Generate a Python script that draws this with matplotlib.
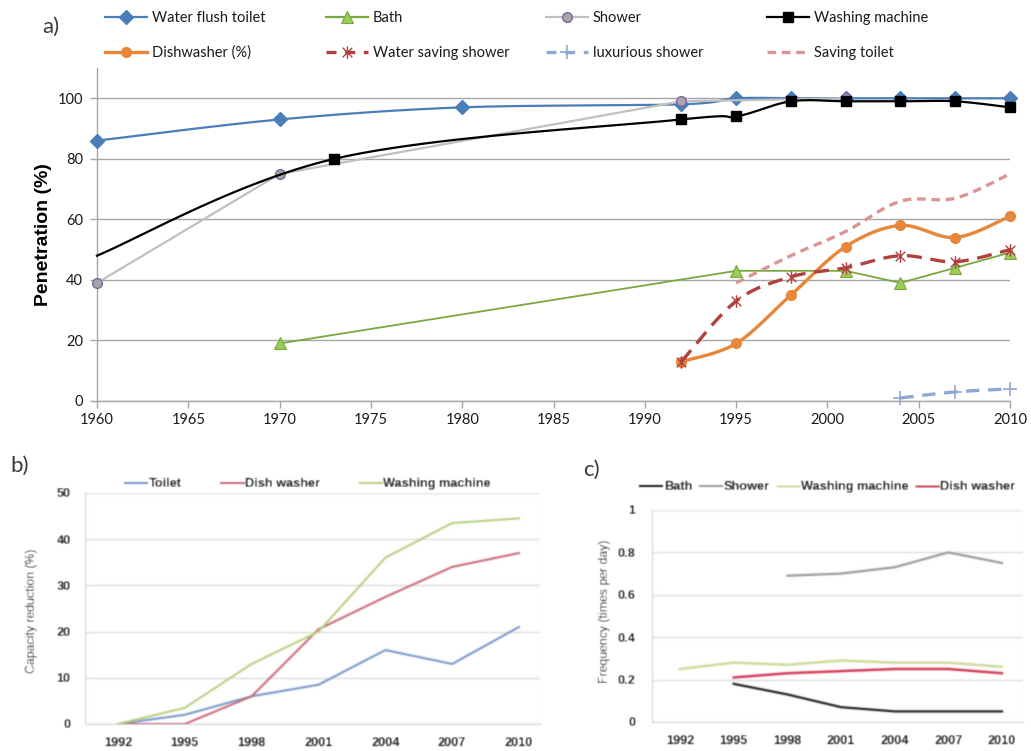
import numpy as np
import matplotlib
matplotlib.use("Agg")
import matplotlib.pyplot as plt
from matplotlib.path import Path
from matplotlib.lines import Line2D

# ---------------- data: (a) penetration of appliances (%) ----------------
toilet_years = [1960, 1970, 1980, 1992, 1995, 1998, 2001, 2004, 2007, 2010]
flush_toilet = [86, 93, 97, 98, 100, 100, 100, 100, 100, 100]

bath_years = [1970, 1995, 2001, 2004, 2007, 2010]
bath = [19, 43, 43, 39, 44, 49]

shower_years = [1960, 1970, 1992, 2001]
shower = [39, 75, 99, 100]

wm_years = [1960, 1973, 1992, 1995, 1998, 2001, 2004, 2007, 2010]
washing_machine = [48, 80, 93, 94, 99, 99, 99, 99, 97]

dw_years = [1992, 1995, 1998, 2001, 2004, 2007, 2010]
dishwasher = [13, 19, 35, 51, 58, 54, 61]

wss_years = [1992, 1995, 1998, 2001, 2004, 2007, 2010]
water_saving_shower = [13, 33, 41, 44, 48, 46, 50]

lux_years = [2004, 2007, 2010]
luxurious_shower = [1, 3, 4]

st_years = [1995, 1998, 2001, 2004, 2007, 2010]
saving_toilet = [39, 48, 56, 66, 67, 75]

# ---------------- data: (b) capacity reduction (%) ----------------
survey_years = ["1992", "1995", "1998", "2001", "2004", "2007", "2010"]
cap_toilet = [0, 2, 6, 8.5, 16, 13, 21]
cap_dishwasher = [0, 0, 6, 20.5, 27.5, 34, 37]
cap_washing = [0, 3.5, 13, 20, 36, 43.5, 44.5]

# ---------------- data: (c) frequency (times per day) ----------------
freq_bath = [np.nan, 0.18, 0.13, 0.07, 0.05, 0.05, 0.05]
freq_shower = [np.nan, np.nan, 0.69, 0.70, 0.73, 0.80, 0.75]
freq_washing = [0.25, 0.28, 0.27, 0.29, 0.28, 0.28, 0.26]
freq_dishwasher = [np.nan, 0.21, 0.23, 0.24, 0.25, 0.25, 0.23]

W, H = 1031, 751
fig = plt.figure(figsize=(W / 100, H / 100), dpi=100)
fig.patch.set_facecolor("white")

TICKFONT = "Lato"
SMALLFONT = "Liberation Sans"
SMALL_SIZE = 9.2


def px_axes(left, top, right, bottom):
    return fig.add_axes([left / W, 1 - bottom / H, (right - left) / W, (bottom - top) / H])


def smooth(x, y, n=24):
    """Cubic Bezier smoothing through every point (Catmull-Rom control points)."""
    pts = np.column_stack([np.asarray(x, float), np.asarray(y, float)])
    if len(pts) < 3:
        return pts[:, 0], pts[:, 1]
    out = [pts[0]]
    t = np.linspace(0, 1, n)[1:, None]
    for i in range(len(pts) - 1):
        p0 = pts[i - 1] if i > 0 else pts[i]
        p1, p2 = pts[i], pts[i + 1]
        p3 = pts[i + 2] if i + 2 < len(pts) else pts[i + 1]
        c1 = p1 + (p2 - p0) / 6.0
        c2 = p2 - (p3 - p1) / 6.0
        seg = (1 - t) ** 3 * p1 + 3 * (1 - t) ** 2 * t * c1 + 3 * (1 - t) * t ** 2 * c2 + t ** 3 * p2
        out.extend(seg)
    out = np.array(out)
    return out[:, 0], out[:, 1]


def soften(img, dpi):
    """Small gaussian blur used for the scanned-looking lower panels."""
    pad = 3
    a = np.pad(img, ((pad, pad), (pad, pad), (0, 0)))
    k = np.exp(-0.5 * (np.arange(-pad, pad + 1) / 0.7) ** 2)
    k /= k.sum()
    tmp = sum(k[i] * np.roll(a, i - pad, axis=0) for i in range(len(k)))
    res = sum(k[i] * np.roll(tmp, i - pad, axis=1) for i in range(len(k)))
    return res, -pad, -pad


# star marker: an x with a vertical stroke
star_path = Path(
    [(-1, -1), (1, 1), (-1, 1), (1, -1), (0, -1.3), (0, 1.3)],
    [Path.MOVETO, Path.LINETO, Path.MOVETO, Path.LINETO, Path.MOVETO, Path.LINETO],
)

# ======================= panel (a) =======================
ax = px_axes(97, 68, 1010, 401)
ax.set_xlim(1960, 2010)
ax.set_ylim(0, 110)

c_toilet = "#4a7ebb"
c_bath_line, c_bath_face = "#7aa83f", "#9bcb59"
c_shower_line, c_shower_face, c_shower_edge = "#c0c0c0", "#a6a6a6", "#8064a2"
c_wm = "#000000"
c_dw = "#e8863a"
c_wss = "#b0413e"
c_lux = "#8ea8d6"
c_st = "#d99694"

# water flush toilet (smoothed)
ax.plot(*smooth(toilet_years, flush_toilet), color=c_toilet, lw=1.6, clip_on=False, zorder=3)
ax.plot(toilet_years, flush_toilet, ls="none", marker="D", ms=7.5, color=c_toilet, clip_on=False, zorder=3)

# bath (straight)
ax.plot(bath_years, bath, color=c_bath_line, lw=1.3, marker="^", ms=9,
        mfc=c_bath_face, mec=c_bath_line, mew=0.8, clip_on=False, zorder=3)

# shower (straight)
ax.plot(shower_years, shower, color=c_shower_line, lw=1.6, marker="o", ms=7,
        mfc=c_shower_face, mec=c_shower_edge, mew=1.0, clip_on=False, zorder=4)

# washing machine (smoothed, no marker on the first point)
ax.plot(*smooth(wm_years, washing_machine), color=c_wm, lw=1.6, clip_on=False, zorder=5)
ax.plot(wm_years[1:], washing_machine[1:], ls="none", marker="s", ms=7, color=c_wm, clip_on=False, zorder=5)

# dishwasher (smoothed)
ax.plot(*smooth(dw_years, dishwasher), color=c_dw, lw=2.4, clip_on=False, zorder=4)
ax.plot(dw_years, dishwasher, ls="none", marker="o", ms=7, color=c_dw, clip_on=False, zorder=4)

# water saving shower (smoothed, dashed)
ax.plot(*smooth(wss_years, water_saving_shower), color=c_wss, lw=2.4, ls=(0, (4.5, 2.6)),
        clip_on=False, zorder=4)
ax.plot(wss_years, water_saving_shower, ls="none", marker=star_path, ms=9, mfc="none",
        mec=c_wss, mew=1.0, clip_on=False, zorder=4)

# luxurious shower (smoothed, dashed)
ax.plot(*smooth(lux_years, luxurious_shower), color=c_lux, lw=2.4, ls=(0, (4, 2.6)),
        clip_on=False, zorder=4)
ax.plot(lux_years, luxurious_shower, ls="none", marker="+", ms=10, mew=1.2, color=c_lux,
        clip_on=False, zorder=4)

# saving toilet (smoothed, dashed, no markers)
ax.plot(*smooth(st_years, saving_toilet), color=c_st, lw=2.4, ls=(0, (2.6, 1.7)),
        clip_on=False, zorder=3)

ax.set_xticks(range(1960, 2011, 5))
ax.set_yticks(range(0, 101, 20))
ax.grid(axis="y", color="#a6a6a6", lw=1.0)
ax.set_axisbelow(True)
for s in ("top", "right"):
    ax.spines[s].set_visible(False)
for s in ("left", "bottom"):
    ax.spines[s].set_color("#a6a6a6")
    ax.spines[s].set_linewidth(1.0)
ax.tick_params(axis="both", direction="out", length=5, width=1.0, color="#a6a6a6",
               labelsize=10.5, labelcolor="#1a1a1a")
ax.tick_params(axis="y", pad=5)
ax.tick_params(axis="x", pad=4)
for lab in ax.get_xticklabels() + ax.get_yticklabels():
    lab.set_fontfamily(TICKFONT)

fig.text(43 / W, 1 - 235 / H, "Penetration (%)", rotation=90, ha="center", va="center",
         fontsize=14, fontweight="bold", family="Liberation Sans", color="black")
fig.text(51 / W, 1 - 27 / H, "a)", ha="center", va="center", fontsize=16,
         family="Lato", fontweight="normal", color="#3a3a3a")

# legend for (a): four columns of two rows
h = {
    "Water flush toilet": Line2D([], [], color=c_toilet, lw=1.6, marker="D", ms=7.5),
    "Dishwasher (%)": Line2D([], [], color=c_dw, lw=2.4, marker="o", ms=7),
    "Bath": Line2D([], [], color=c_bath_line, lw=1.6, marker="^", ms=9, mfc=c_bath_face,
                   mec=c_bath_line, mew=0.8),
    "Water saving shower": Line2D([], [], color=c_wss, lw=2.4, ls=(0, (3, 2.6)), marker=star_path,
                                  ms=9, mfc="none", mec=c_wss, mew=1.0),
    "Shower": Line2D([], [], color=c_shower_line, lw=1.6, marker="o", ms=7, mfc=c_shower_face,
                     mec=c_shower_edge, mew=1.0),
    "luxurious shower": Line2D([], [], color=c_lux, lw=2.4, ls=(0, (3, 2.6)), marker="+", ms=10,
                               mew=1.2),
    "Washing machine": Line2D([], [], color=c_wm, lw=1.6, marker="s", ms=7),
    "Saving toilet": Line2D([], [], color=c_st, lw=2.4, ls=(0, (2.6, 1.7))),
}
columns = [("Water flush toilet", "Dishwasher (%)"), ("Bath", "Water saving shower"),
           ("Shower", "luxurious shower"), ("Washing machine", "Saving toilet")]
col_x = [105, 326, 546, 767]
for x0, names in zip(col_x, columns):
    leg = fig.legend([h[n] for n in names], list(names), loc="upper left",
                     bbox_to_anchor=(x0 / W, 1 - 11 / H), frameon=False, borderpad=0,
                     borderaxespad=0, handlelength=2.9, handletextpad=0.3, labelspacing=1.42,
                     prop={"family": TICKFONT, "size": 10.5})
    for t in leg.get_texts():
        t.set_color("#1a1a1a")

# ======================= panel (b) =======================
bx0, bdx = 118.0, (519.0 - 118.0) / 6
b_left, b_right = 84.6, 540.0
axb = px_axes(b_left, 493, b_right, 724)
axb.set_xlim((b_left - bx0) / bdx, (b_right - bx0) / bdx)
axb.set_ylim(0, 50)
xb = np.arange(len(survey_years))
axb.plot(xb, cap_toilet, color="#7896cb", lw=1.5, label="Toilet")
axb.plot(xb, cap_dishwasher, color="#c96a7a", lw=1.5, label="Dish washer")
axb.plot(xb, cap_washing, color="#b8d080", lw=1.5, label="Washing machine")
axb.set_xticks(xb)
axb.set_xticklabels(survey_years)
axb.set_yticks(range(0, 51, 10))
axb.grid(axis="y", color="#dcdcdc", lw=1.0)
axb.set_axisbelow(True)
for s in ("top", "right"):
    axb.spines[s].set_visible(False)
for s in ("left", "bottom"):
    axb.spines[s].set_color("#d4d4d4")
axb.tick_params(axis="both", length=0, labelsize=SMALL_SIZE, labelcolor="#1c1c1c")
axb.tick_params(axis="y", pad=10)
axb.tick_params(axis="x", pad=9)
for lab in axb.get_xticklabels() + axb.get_yticklabels():
    lab.set_fontfamily(SMALLFONT)
    lab.set_fontweight("bold")
axb.text(32 / W, 1 - 611 / H, "Capacity reduction (%)", transform=fig.transFigure, rotation=90,
         ha="center", va="center", fontsize=8.8, family=SMALLFONT, color="#2a2a2a")
legb = axb.legend(loc="center left", bbox_to_anchor=(125 / W, 1 - 484 / H),
                  bbox_transform=fig.transFigure, ncol=3, frameon=False, borderpad=0,
                  borderaxespad=0, handlelength=1.75, handletextpad=0.1, columnspacing=3.1,
                  prop={"family": SMALLFONT, "size": SMALL_SIZE, "weight": "bold"})
for t in legb.get_texts():
    t.set_color("#1c1c1c")
axb.set_agg_filter(soften)
fig.text(20 / W, 1 - 466 / H, "b)", ha="center", va="center", fontsize=16,
         family="Lato", fontweight="normal", color="#3a3a3a")

# ======================= panel (c) =======================
cx0, cdx = 680.0, (1002.0 - 680.0) / 6
c_left, c_right = 652.0, 1023.0
axc = px_axes(c_left, 510, c_right, 722)
axc.set_xlim((c_left - cx0) / cdx, (c_right - cx0) / cdx)
axc.set_ylim(0, 1)
xc = np.arange(len(survey_years))
axc.plot(xc, freq_bath, color="#1e1e1e", lw=1.6, label="Bath")
axc.plot(xc, freq_shower, color="#9a9a9a", lw=1.6, label="Shower")
axc.plot(xc, freq_washing, color="#cddb98", lw=1.8, label="Washing machine")
axc.plot(xc, freq_dishwasher, color="#d43a55", lw=1.8, label="Dish washer")
axc.set_xticks(xc)
axc.set_xticklabels(survey_years)
axc.set_yticks([0, 0.2, 0.4, 0.6, 0.8, 1.0])
axc.set_yticklabels(["0", "0.2", "0.4", "0.6", "0.8", "1"])
axc.grid(axis="y", color="#dcdcdc", lw=1.0)
axc.set_axisbelow(True)
for s in ("top", "right"):
    axc.spines[s].set_visible(False)
for s in ("left", "bottom"):
    axc.spines[s].set_color("#d4d4d4")
axc.tick_params(axis="both", length=0, labelsize=SMALL_SIZE, labelcolor="#1c1c1c")
axc.tick_params(axis="y", pad=12)
axc.tick_params(axis="x", pad=9)
for lab in axc.get_xticklabels() + axc.get_yticklabels():
    lab.set_fontfamily(SMALLFONT)
    lab.set_fontweight("bold")
axc.text(605 / W, 1 - 611 / H, "Frequency (times per day)", transform=fig.transFigure,
         rotation=90, ha="center", va="center", fontsize=8.8, family=SMALLFONT, color="#2a2a2a")
legc = axc.legend(loc="center left", bbox_to_anchor=(640 / W, 1 - 487 / H),
                  bbox_transform=fig.transFigure, ncol=4, frameon=False, borderpad=0,
                  borderaxespad=0, handlelength=1.75, handletextpad=0.1, columnspacing=0.6,
                  prop={"family": SMALLFONT, "size": SMALL_SIZE, "weight": "bold"})
for t in legc.get_texts():
    t.set_color("#1c1c1c")
axc.set_agg_filter(soften)
fig.text(591 / W, 1 - 470 / H, "c)", ha="center", va="center", fontsize=16,
         family="Lato", fontweight="normal", color="#3a3a3a")

fig.savefig("out.png", dpi=100, facecolor="white")
